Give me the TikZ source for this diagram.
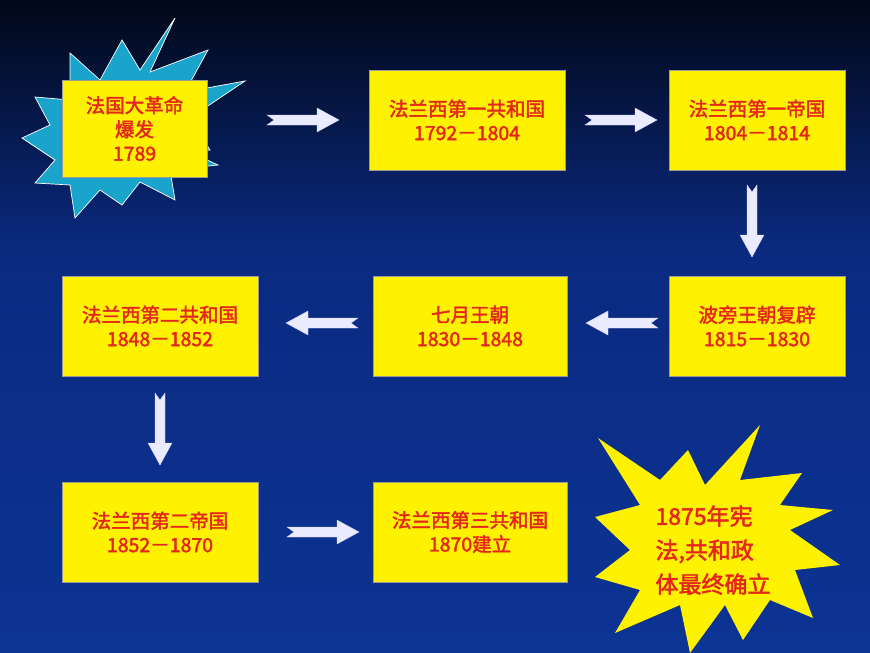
\documentclass[tikz,border=0pt]{standalone}
\usepackage{fontspec}
\newfontfamily\cjk{Noto Sans CJK SC}[AutoFakeBold=2]
\definecolor{bgtop}{HTML}{020818}
\definecolor{bgmid}{HTML}{0A2A80}
\definecolor{bgbot}{HTML}{0C3494}
\definecolor{txt}{HTML}{E4261C}
\definecolor{starc}{HTML}{1AA4CC}
\begin{document}
\begin{tikzpicture}[x=1pt,y=-1pt,
  box/.style={draw=black!40,fill=yellow,minimum width=#1,minimum height=100,inner sep=2pt,align=center,text=txt,font=\cjk\bfseries\fontsize{19.5}{24}\selectfont},
  box/.default=196,
  barrow/.pic={\fill[blue!8!white,draw=blue!20!white,line width=0.4] (0,-5)--(50,-5)--(50,-12)--(72,0)--(50,12)--(50,5)--(0,5)--(7,0)--cycle;}]
\useasboundingbox (0,0) rectangle (870,653);
\fill[top color=bgtop,bottom color=bgmid] (0,0) rectangle (870,250);
\fill[top color=bgmid,bottom color=bgbot] (0,250) rectangle (870,653);
% cyan star
\fill[starc,draw=white,line width=0.7] (175,18)--(150,72)--(208,50)--(185,92)--(245,81)--(190,118)--(210,150)--(190,152)--(218,165)--(170,170)--(175,200)--(140,182)--(122,205)--(100,190)--(75,218)--(70,185)--(35,183)--(55,160)--(22,138)--(50,125)--(35,97)--(70,100)--(70,53)--(100,80)--(122,40)--(140,70)--cycle;
% yellow star
\fill[yellow] (760,425)--(740,480)--(802,473)--(780,505)--(833,510)--(790,530)--(840,565)--(795,570)--(813,618)--(770,600)--(743,640)--(725,605)--(690,653)--(680,605)--(615,633)--(640,590)--(595,577)--(630,550)--(595,517)--(640,505)--(598,438)--(660,480)--(688,450)--(705,485)--cycle;
\node[box=145,minimum height=97] (a) at (134.5,128.5) {法国大革命\\爆发\\1789};
\node[box] (b) at (467,120) {法兰西第一共和国\\1792－1804};
\node[box=176] (c) at (757,120) {法兰西第一帝国\\1804－1814};
\node[box=176] (d) at (757,326) {波旁王朝复辟\\1815－1830};
\node[box=194] (e) at (470,326) {七月王朝\\1830－1848};
\node[box] (f) at (160,326) {法兰西第二共和国\\1848－1852};
\node[box] (g) at (160,532) {法兰西第二帝国\\1852－1870};
\node[box=194] (h) at (470,532) {法兰西第三共和国\\1870建立};
\node[align=left,text=txt,font=\cjk\bfseries\fontsize{23}{34}\selectfont] (i) at (713,550) {1875年宪\\法,共和政\\体最终确立};
\pic at (267,120) {barrow};
\pic at (585,120) {barrow};
\pic[rotate=-90] at (752,185) {barrow};
\pic[rotate=180] at (358,323) {barrow};
\pic[rotate=180] at (658,323) {barrow};
\pic[rotate=-90] at (160,393) {barrow};
\pic at (287,532) {barrow};
\end{tikzpicture}
\end{document}
